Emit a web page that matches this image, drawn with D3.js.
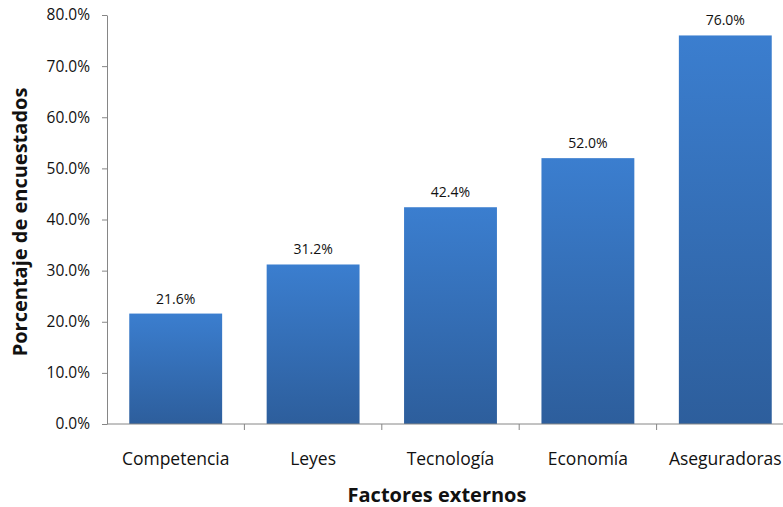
<!DOCTYPE html>
<html>
<head>
<meta charset="utf-8">
<script src="https://cdn.jsdelivr.net/npm/d3@7"></script>
<style>
  body { margin: 0; background: #fff; }
  text { font-family: "Open Sans", Lato, sans-serif; fill: #111; }
</style>
</head>
<body>
<div class="chart"></div>
<script>
// data
const categories = ['Competencia', 'Leyes', 'Tecnología', 'Economía', 'Aseguradoras'];
const values = [21.6, 31.2, 42.4, 52.0, 76.0];
const yTicks = [0, 10, 20, 30, 40, 50, 60, 70, 80];

const width = 783, height = 507;
const margin = {top: 15, right: -11, bottom: 83, left: 107};

const svg = d3.select('.chart').append('svg')
  .attr('width', width)
  .attr('height', height);

const defs = svg.append('defs');
const grad = defs.append('linearGradient')
  .attr('id', 'barGrad')
  .attr('x1', 0).attr('y1', 0).attr('x2', 0).attr('y2', 1);
grad.append('stop').attr('offset', '0%').attr('stop-color', '#3b7ecf');
grad.append('stop').attr('offset', '100%').attr('stop-color', '#2d5e9c');

const x = d3.scaleBand()
  .domain(categories)
  .range([margin.left, width - margin.right])
  .paddingInner(0.324)
  .paddingOuter(0.162);

const y = d3.scaleLinear()
  .domain([0, 80])
  .range([height - margin.bottom, margin.top]);

// bars
svg.append('g')
  .selectAll('rect')
  .data(values)
  .enter()
  .append('rect')
  .attr('x', (d, i) => x(categories[i]))
  .attr('y', d => y(d))
  .attr('width', x.bandwidth())
  .attr('height', d => y(0) - y(d))
  .attr('fill', 'url(#barGrad)');

// value labels
svg.append('g')
  .selectAll('text')
  .data(values)
  .enter()
  .append('text')
  .attr('x', (d, i) => x(categories[i]) + x.bandwidth() / 2)
  .attr('y', d => y(d) - 10)
  .attr('text-anchor', 'middle')
  .style('font-size', '14px')
  .text(d => d.toFixed(1) + '%');

// y axis
const yAxis = svg.append('g')
  .attr('transform', `translate(${margin.left},0)`)
  .call(d3.axisLeft(y).tickValues(yTicks).tickSize(5).tickSizeOuter(0)
    .tickFormat(d => d.toFixed(1) + '%'));
yAxis.selectAll('text').style('font-size', '15.5px').attr('dx', '-9');

// x axis with ticks at band boundaries
const xAxisG = svg.append('g')
  .attr('transform', `translate(0,${y(0)})`);
xAxisG.append('line')
  .attr('x1', margin.left).attr('x2', width - margin.right)
  .attr('stroke', '#868686');
const bounds = categories.map(c => x(c) - x.step() * x.paddingInner() / 2);
xAxisG.selectAll('.tk')
  .data(bounds.slice(1))
  .enter()
  .append('line')
  .attr('x1', d => d).attr('x2', d => d)
  .attr('y1', 0).attr('y2', 6)
  .attr('stroke', '#868686');
xAxisG.selectAll('.lbl')
  .data(categories)
  .enter()
  .append('text')
  .attr('x', d => x(d) + x.bandwidth() / 2)
  .attr('y', 41)
  .attr('text-anchor', 'middle')
  .style('font-size', '17.5px')
  .text(d => d);

svg.selectAll('.domain, .tick line').attr('stroke', '#868686');

// titles
svg.append('text')
  .attr('x', 437)
  .attr('y', 502)
  .attr('text-anchor', 'middle')
  .style('font-size', '20px')
  .style('font-weight', 'bold')
  .text('Factores externos');

svg.append('text')
  .attr('transform', `translate(27,${222}) rotate(-90)`)
  .attr('text-anchor', 'middle')
  .style('font-size', '20px')
  .style('font-weight', 'bold')
  .text('Porcentaje de encuestados');
</script>
</body>
</html>
